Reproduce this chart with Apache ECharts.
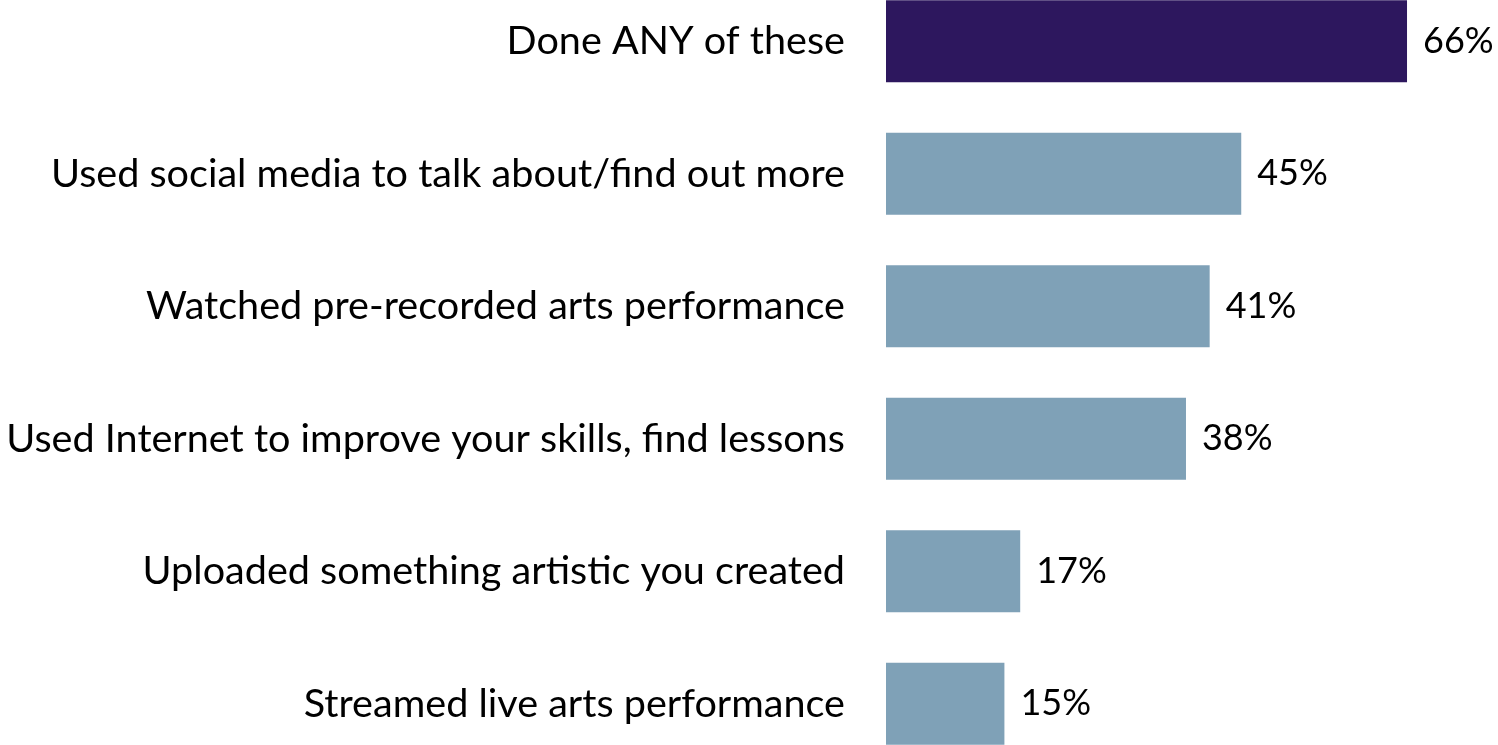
<!DOCTYPE html>
<html>
<head>
<meta charset="utf-8">
<script src="https://cdn.jsdelivr.net/npm/echarts@6/dist/echarts.min.js"></script>
<style>
html,body{margin:0;padding:0;background:#fff;overflow:hidden;width:1498px;height:745px;}
#chart{width:1498px;height:795px;position:absolute;left:0;top:-25px;}
</style>
</head>
<body>
<div id="chart"></div>
<script>
const categories = [
  "Done ANY of these",
  "Used social media to talk about/find out more",
  "Watched pre-recorded arts performance",
  "Used Internet to improve your skills, find lessons",
  "Uploaded something artistic you created",
  "Streamed live arts performance"
];
const values = [66, 45, 41, 38, 17, 15];
const highlightIndex = 0;

const chart = echarts.init(document.getElementById('chart'));
const fontFamily = 'Lato, "Open Sans", sans-serif';
chart.setOption({
  animation: false,
  grid: { left: 886, right: 59.4, top: 0, bottom: 0, containLabel: false },
  xAxis: {
    type: 'value', min: 0, max: 70, show: false
  },
  yAxis: {
    type: 'category', data: categories, inverse: true,
    axisLine: { show: false }, axisTick: { show: false },
    axisLabel: { color: '#000', fontSize: 39.6, fontFamily: fontFamily, margin: 41 }
  },
  series: [{
    type: 'bar',
    barWidth: 82,
    data: values.map((v, i) => ({
      value: v,
      itemStyle: { color: i === highlightIndex ? '#2D175E' : '#7FA1B7' }
    })),
    label: {
      show: true, position: 'right', distance: 16,
      formatter: p => p.value + '%',
      color: '#000', fontSize: 36, fontFamily: fontFamily
    }
  }]
});
</script>
</body>
</html>
